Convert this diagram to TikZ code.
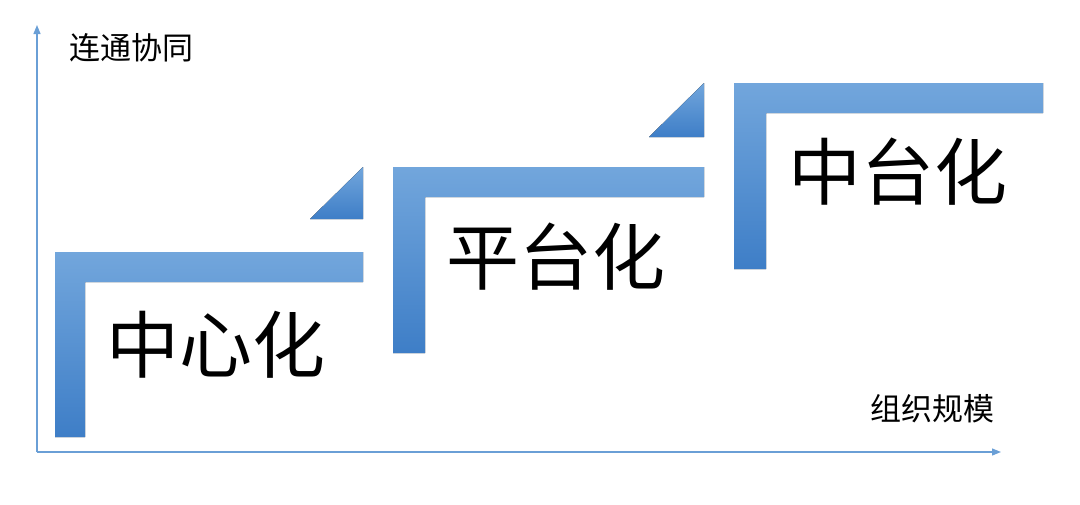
\documentclass[tikz,border=0pt]{standalone}
\usepackage{fontspec}
\usepackage{tikz}
\usetikzlibrary{arrows.meta}
\newfontfamily\cjk{Noto Sans CJK SC}
\definecolor{barlight}{HTML}{72A6DC}
\definecolor{bardark}{HTML}{3E7EC7}
\definecolor{axisblue}{HTML}{6A9FD6}
\tikzset{
  axis/.style={draw=axisblue, line width=1.2pt, -{Triangle[length=9pt,width=7pt]}},
  stair/.style={top color=barlight, bottom color=bardark, draw=none},
  stage/.style={font=\cjk\fontsize{73}{73}\selectfont, inner sep=0pt},
  axislabel/.style={font=\cjk\fontsize{31}{31}\selectfont, inner sep=0pt}
}
\begin{document}
\begin{tikzpicture}[x=1pt,y=-1pt]
    \useasboundingbox (0,0) rectangle (1080,504);
    \coordinate (O) at (37,452);
    \coordinate (ytop) at (37,25);
    \coordinate (xend) at (1001,452);
    \draw[axis] (O) -- (ytop);
    \draw[axis] (O) -- (xend);
    \node[axislabel] (ylab) at (131,48) {连通协同};
    \node[axislabel] (xlab) at (932,409) {组织规模};
    \fill[stair] (55,437) -- (55,252) -- (363,252) -- (363,282)
        -- (85,282) -- (85,437) -- cycle;
    \fill[stair] (393,353) -- (393,167) -- (704,167) -- (704,197)
        -- (425,197) -- (425,353) -- cycle;
    \fill[stair] (734,269) -- (734,83) -- (1043,83) -- (1043,113)
        -- (766,113) -- (766,269) -- cycle;
    \fill[stair] (310,219) -- (363,167) -- (363,219) -- cycle;
    \fill[stair] (649,137) -- (704,83) -- (704,137) -- cycle;
    \node[stage] (central) at (216,345) {中心化};
    \node[stage] (platform) at (556,257) {平台化};
    \node[stage] (midplat) at (898,172) {中台化};
\end{tikzpicture}
\end{document}
